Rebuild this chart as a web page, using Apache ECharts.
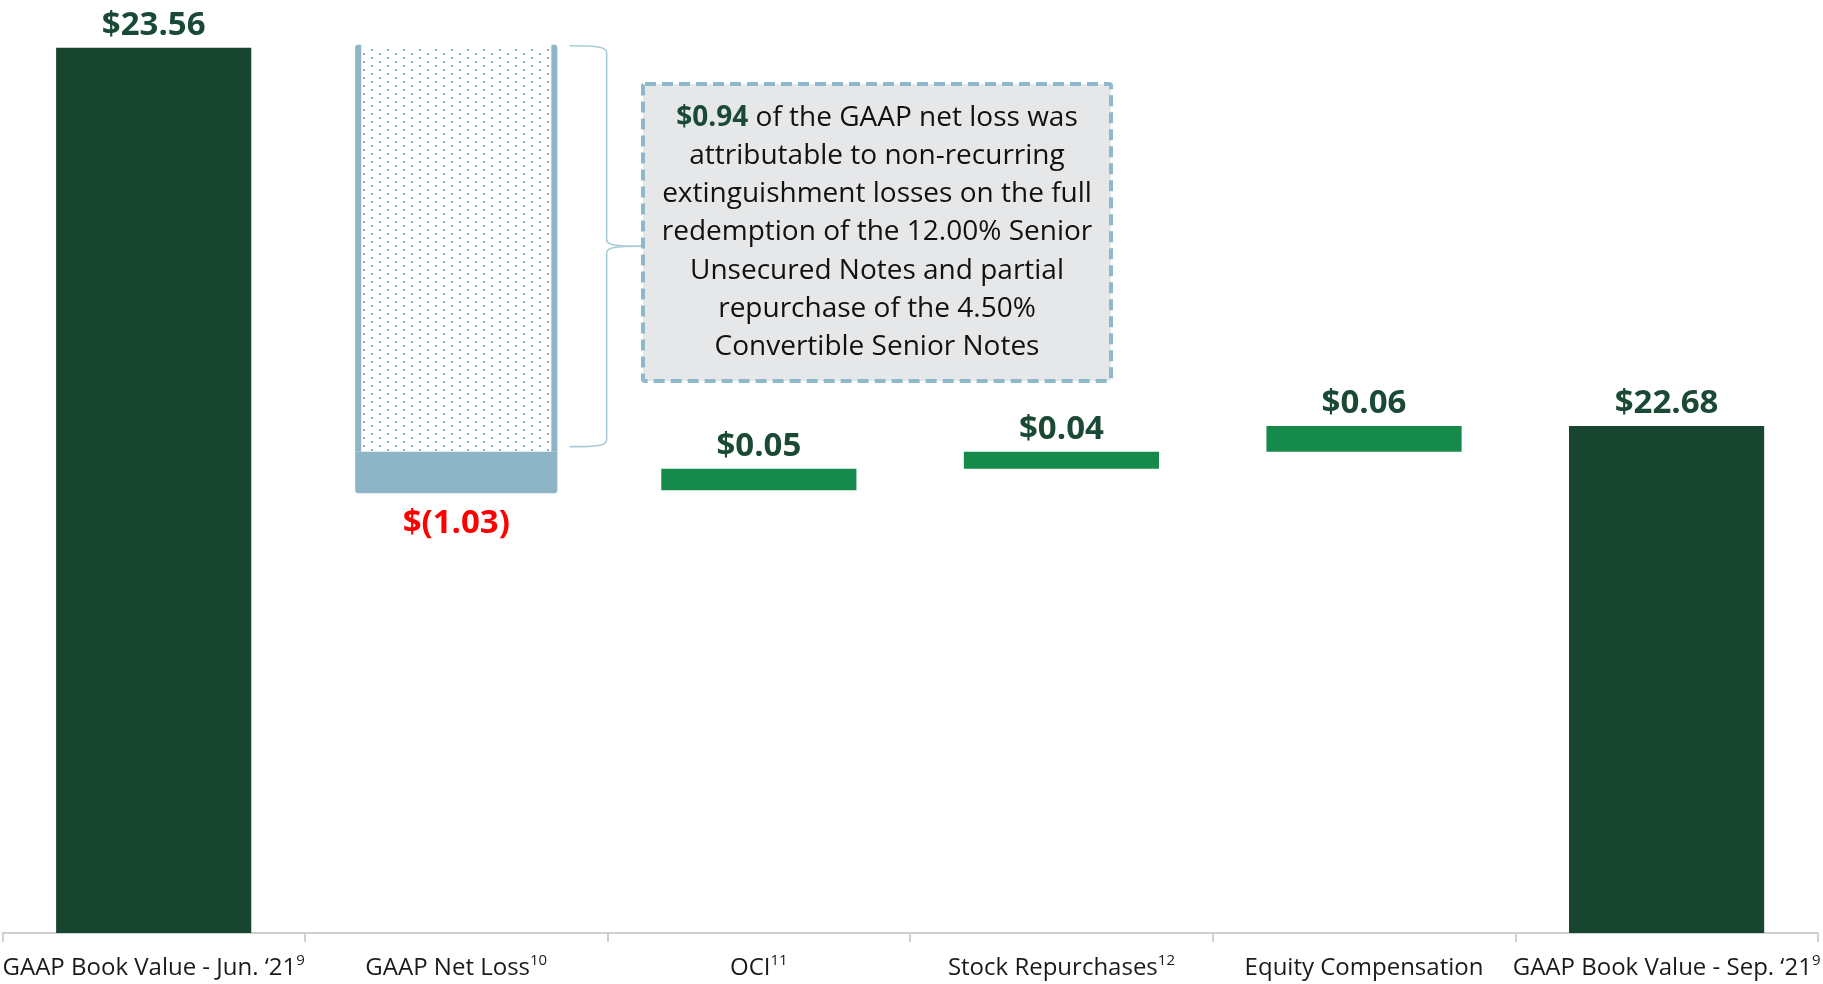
<!DOCTYPE html>
<html>
<head>
<meta charset="utf-8">
<script src="https://cdn.jsdelivr.net/npm/echarts@6/dist/echarts.min.js"></script>
<style>
  html, body { margin: 0; padding: 0; background: #fff; }
  #chart { width: 1823px; height: 984px; }
</style>
</head>
<body>
<div id="chart"></div>
<script>
// book value per share bridge, Jun '21 -> Sep '21
const categories = ['GAAP Book Value - Jun. \u201821', 'GAAP Net Loss', 'OCI', 'Stock Repurchases', 'Equity Compensation', 'GAAP Book Value - Sep. \u201821'];
const footnotes = ['9', '10', '11', '12', '', '9'];
const openingValue = 23.56;
const changes = [-1.03, 0.05, 0.04, 0.06];
const closingValue = 22.68;
const nonRecurringLoss = 0.94;

const DARK = '#184530';
const GREEN = '#168a4a';
const STEEL = '#8db5c6';
const TEXT_GREEN = '#1a4a35';

function money(v) {
    return v < 0 ? '$(' + Math.abs(v).toFixed(2) + ')' : '$' + v.toFixed(2);
}

// waterfall items: [categoryIndex, low, high, change]
const items = [];
items.push([0, 0, openingValue, openingValue]);
let running = openingValue;
changes.forEach((c, i) => {
    const next = +(running + c).toFixed(2);
    items.push([i + 1, Math.min(running, next), Math.max(running, next), c]);
    running = next;
});
items.push([5, 0, closingValue, closingValue]);

// dotted fill for the non-recurring part of the loss
const tile = document.createElement('canvas');
tile.width = 16;
tile.height = 8;
const tctx = tile.getContext('2d');
tctx.fillStyle = '#ffffff';
tctx.fillRect(0, 0, 16, 8);
tctx.fillStyle = '#8ab4c6';
tctx.fillRect(3, 1, 2, 2);
tctx.fillRect(11, 5, 2, 2);

const chart = echarts.init(document.getElementById('chart'));

function renderItem(params, api) {
    const idx = api.value(0);
    const low = api.value(1);
    const high = api.value(2);
    const change = api.value(3);
    const cs = params.coordSys;
    const bottomLimit = cs.y + cs.height;
    const pTop = api.coord([idx, high]);
    const pLow = api.coord([idx, low]);
    const yTop = pTop[1];
    const yLow = Math.min(pLow[1], bottomLimit);
    const w = api.size([1, 0])[0] * 0.645;
    const cx = pTop[0];
    const labelFont = { fontFamily: 'Open Sans', fontWeight: 'bold', fontSize: 33 };
    const children = [];

    if (change < 0) {
        const lw = w + 7;
        const x = cx - lw / 2;
        const ySplit = api.coord([idx, high - nonRecurringLoss])[1];
        const yEnd = yLow + 3;
        children.push({
            type: 'rect',
            shape: { x: x, y: yTop, width: lw, height: ySplit - yTop },
            style: { fill: { image: tile, repeat: 'repeat' } }
        });
        children.push({
            type: 'rect',
            shape: { x: x, y: ySplit, width: lw, height: yEnd - ySplit, r: [0, 0, 3, 3] },
            style: { fill: STEEL }
        });
        children.push({
            type: 'rect',
            shape: { x: x, y: yTop - 3, width: 6, height: ySplit - yTop + 3, r: [3, 0, 0, 0] },
            style: { fill: STEEL }
        });
        children.push({
            type: 'rect',
            shape: { x: x + lw - 6, y: yTop - 3, width: 6, height: ySplit - yTop + 3, r: [0, 3, 0, 0] },
            style: { fill: STEEL }
        });
        children.push({
            type: 'text',
            style: Object.assign({
                text: money(change), x: cx, y: yEnd + 14,
                align: 'center', verticalAlign: 'top', fill: '#ff0000'
            }, labelFont)
        });
    } else {
        const x = cx - w / 2;
        const isTotal = idx === 0 || idx === categories.length - 1;
        children.push({
            type: 'rect',
            shape: { x: x, y: yTop, width: w, height: yLow - yTop },
            style: { fill: isTotal ? DARK : GREEN }
        });
        children.push({
            type: 'text',
            style: Object.assign({
                text: money(change), x: cx, y: yTop - 6,
                align: 'center', verticalAlign: 'bottom', fill: TEXT_GREEN
            }, labelFont)
        });
    }
    return { type: 'group', children: children };
}

const option = {
    animation: false,
    grid: { left: 1, right: 1, top: 30.5, bottom: 51, containLabel: false },
    xAxis: {
        type: 'category',
        data: categories,
        axisLine: { lineStyle: { color: '#d0d0d0', width: 2 } },
        axisTick: { show: true, length: 9, lineStyle: { color: '#d0d0d0', width: 2 } },
        axisLabel: {
            interval: 0,
            margin: 20,
            formatter: (v, i) => '{a|' + v + '}' + (footnotes[i] ? '{s|' + footnotes[i] + '}' : ''),
            rich: {
                a: { fontFamily: 'Open Sans', fontSize: 24, color: '#1a1a1a', lineHeight: 30 },
                s: { fontFamily: 'Open Sans', fontSize: 15, color: '#1a1a1a', verticalAlign: 'top', lineHeight: 30, padding: [0, 0, 10, 0] }
            }
        }
    },
    yAxis: {
        type: 'value',
        min: 21.5,
        max: 23.6,
        show: false,
        splitLine: { show: false }
    },
    series: [{
        type: 'custom',
        renderItem: renderItem,
        encode: { x: 0, y: [1, 2] },
        data: items
    }]
};

chart.setOption(option);

// callout bracket and note, tied to the net loss bar
const bracketTop = chart.convertToPixel({ gridIndex: 0 }, [1, openingValue])[1] - 2;
const bracketBottom = chart.convertToPixel({ gridIndex: 0 }, [1, openingValue - nonRecurringLoss])[1] - 5;
const barRight = chart.convertToPixel({ gridIndex: 0 }, [1, openingValue])[0] + (303.5 * 0.645 + 7) / 2;
const bx0 = barRight + 12;
const bx1 = bx0 + 37;
const boxLeft = 643;
const mid = (bracketTop + bracketBottom) / 2;
const lineStyle = { stroke: '#a8cbd8', lineWidth: 1.6, fill: null };

chart.setOption({
    graphic: [
        { type: 'bezierCurve', shape: { x1: bx0, y1: bracketTop, cpx1: bx0 + 28, cpy1: bracketTop, cpx2: bx1, cpy2: bracketTop + 1, x2: bx1, y2: bracketTop + 7 }, style: lineStyle },
        { type: 'line', shape: { x1: bx1, y1: bracketTop + 7, x2: bx1, y2: mid - 7 }, style: lineStyle },
        { type: 'bezierCurve', shape: { x1: bx1, y1: mid - 7, cpx1: bx1, cpy1: mid - 1, cpx2: bx1 + 8, cpy2: mid, x2: boxLeft, y2: mid }, style: lineStyle },
        { type: 'bezierCurve', shape: { x1: bx1, y1: mid + 7, cpx1: bx1, cpy1: mid + 1, cpx2: bx1 + 8, cpy2: mid, x2: boxLeft, y2: mid }, style: lineStyle },
        { type: 'line', shape: { x1: bx1, y1: mid + 7, x2: bx1, y2: bracketBottom - 7 }, style: lineStyle },
        { type: 'bezierCurve', shape: { x1: bx0, y1: bracketBottom, cpx1: bx0 + 28, cpy1: bracketBottom, cpx2: bx1, cpy2: bracketBottom - 1, x2: bx1, y2: bracketBottom - 7 }, style: lineStyle },
        {
            type: 'rect',
            shape: { x: boxLeft, y: 84, width: 468, height: 297, r: 2 },
            style: { fill: '#e6e7e9', stroke: '#8fb8cb', lineWidth: 4, lineDash: [11, 6] },
            z: 10
        },
        {
            type: 'text',
            x: boxLeft + 234,
            y: 232.5,
            z: 11,
            style: {
                text: '{g|' + money(nonRecurringLoss) + '}{t| of the GAAP net loss was}\n' +
                      '{t|attributable to non-recurring}\n' +
                      '{t|extinguishment losses on the full}\n' +
                      '{t|redemption of the 12.00% Senior}\n' +
                      '{t|Unsecured Notes and partial}\n' +
                      '{t|repurchase of the 4.50%}\n' +
                      '{t|Convertible Senior Notes}',
                align: 'center',
                verticalAlign: 'middle',
                rich: {
                    g: { fontFamily: 'Open Sans', fontWeight: 'bold', fontSize: 28, fill: TEXT_GREEN, lineHeight: 38.3 },
                    t: { fontFamily: 'Open Sans', fontSize: 28, fill: '#111111', lineHeight: 38.3 }
                }
            }
        }
    ]
});
</script>
</body>
</html>
